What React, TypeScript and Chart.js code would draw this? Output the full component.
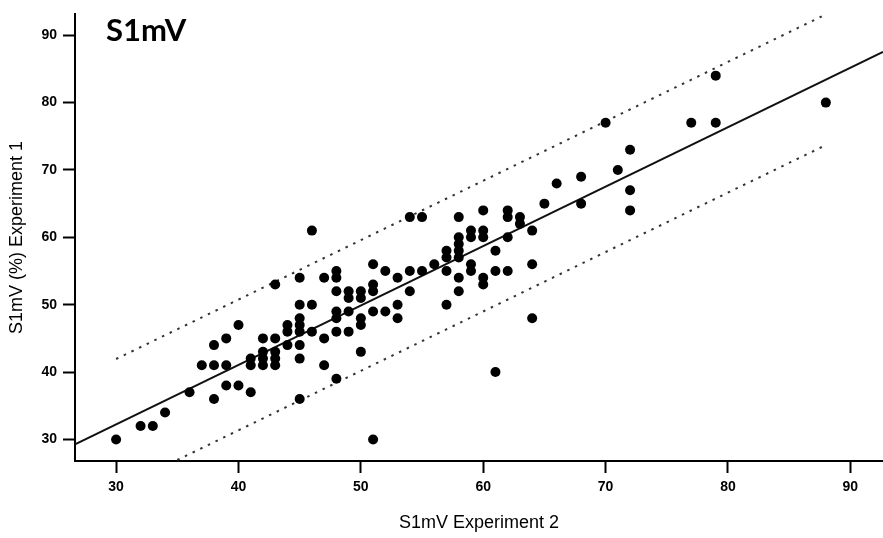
import React, { useEffect, useRef } from "react";
import { Chart, registerables } from "chart.js";

Chart.register(...registerables);

// S1mV Experiment 2 (x) vs S1mV (%) Experiment 1 (y)
const expTwo: number[] = [
  30, 32, 33, 34, 36, 37, 38, 39, 38, 38, 39, 39, 40, 40, 41, 41, 41,
  42, 42, 42, 42, 43, 43, 43, 43, 43, 44, 44, 44,
  45, 45, 45, 45, 45, 45, 45, 45, 46, 46, 46, 47, 47, 47,
  48, 48, 48, 48, 48, 48, 48, 49, 49, 49, 49, 50, 50, 50, 50, 50,
  51, 51, 51, 51, 51, 52, 52, 53, 53, 53, 54, 54, 54, 55, 55, 56,
  57, 57, 57, 57, 58, 58, 58, 58, 58, 58, 58, 59, 59, 59, 59,
  60, 60, 60, 60, 60, 61, 61, 61, 62, 62, 62, 62, 63, 63, 64, 64, 64,
  65, 66, 68, 68, 70, 71, 72, 72, 72, 77, 79, 79, 88,
];
const expOne: number[] = [
  30, 32, 32, 34, 37, 41, 41, 41, 44, 36, 45, 38, 38, 47, 37, 42, 41,
  45, 43, 42, 41, 53, 45, 43, 42, 41, 47, 46, 44,
  54, 50, 48, 47, 46, 44, 42, 36, 61, 50, 46, 54, 45, 41,
  55, 54, 52, 49, 48, 46, 39, 52, 51, 49, 46, 52, 51, 48, 47, 43,
  56, 53, 52, 49, 30, 55, 49, 54, 50, 48, 63, 55, 52, 63, 55, 56,
  58, 57, 55, 50, 63, 60, 59, 58, 57, 54, 52, 61, 60, 56, 55,
  64, 61, 60, 54, 53, 58, 55, 40, 64, 63, 60, 55, 63, 62, 61, 56, 48,
  65, 68, 69, 65, 77, 70, 73, 67, 64, 77, 84, 77, 80,
];

const xTicks: number[] = [30, 40, 50, 60, 70, 80, 90];
const yTicks: number[] = [30, 40, 50, 60, 70, 80, 90];

// fitted line and prediction band
const fitIntercept = 5.78;
const fitSlope = 0.882;
const bandHalfWidth = 9.7;
const bandRange: number[] = [30, 88];

const X_MIN = 26.64;
const X_MAX = 92.67;
const Y_MIN = 26.8;
const Y_MAX = 93.15;

export default function App() {
  const ref = useRef<HTMLCanvasElement | null>(null);

  useEffect(() => {
    const canvas = ref.current;
    if (!canvas) return;
    document.body.style.margin = "0";

    const points = expTwo.map((x, i) => ({ x, y: expOne[i] }));
    const fit = (x: number) => fitIntercept + fitSlope * x;
    const fitLine = [X_MIN, X_MAX].map((x) => ({ x, y: fit(x) }));
    const upper = bandRange.map((x) => ({ x, y: fit(x) + bandHalfWidth }));
    const lower = bandRange.map((x) => ({ x, y: fit(x) - bandHalfWidth }));

    const titlePlugin = {
      id: "panelTitle",
      afterDraw(chart: any) {
        const ctx = chart.ctx;
        ctx.save();
        ctx.fillStyle = "#000";
        ctx.font = "bold 31px Lato, 'Liberation Sans', sans-serif";
        ctx.textAlign = "left";
        ctx.textBaseline = "alphabetic";
        ctx.fillText("S1mV", 106, 41);
        ctx.restore();
      },
    };

    const tickFont = { family: "'Liberation Sans', Arial, sans-serif", size: 14, weight: "bold" as const };
    const titleFont = { family: "'Liberation Sans', Arial, sans-serif", size: 18, weight: "normal" as const };

    const chart = new Chart(canvas, {
      type: "scatter",
      data: {
        datasets: [
          {
            label: "points",
            data: points,
            pointRadius: 5,
            pointHoverRadius: 5,
            pointBackgroundColor: "#000",
            pointBorderColor: "#000",
            pointBorderWidth: 0,
            showLine: false,
            order: 1,
          },
          {
            label: "fit",
            data: fitLine,
            showLine: true,
            borderColor: "#111",
            borderWidth: 2,
            pointRadius: 0,
            order: 2,
          },
          {
            label: "upper",
            data: upper,
            showLine: true,
            borderColor: "#333",
            borderWidth: 2,
            borderDash: [2.5, 6],
            pointRadius: 0,
            order: 3,
          },
          {
            label: "lower",
            data: lower,
            showLine: true,
            borderColor: "#333",
            borderWidth: 2,
            borderDash: [2.5, 6],
            pointRadius: 0,
            order: 3,
          },
        ],
      },
      options: {
        responsive: false,
        animation: false,
        devicePixelRatio: 1,
        layout: { autoPadding: false, padding: { top: 14, right: 0, left: 0, bottom: 0 } },
        plugins: {
          legend: { display: false },
          tooltip: { enabled: false },
          title: { display: false },
        },
        scales: {
          x: {
            type: "linear",
            min: X_MIN,
            max: X_MAX,
            afterBuildTicks: (scale: any) => {
              scale.ticks = xTicks.map((v) => ({ value: v }));
            },
            afterFit: (scale: any) => {
              scale.height = 77;
              scale.paddingRight = 0;
              scale.paddingLeft = 0;
            },
            border: { display: true, color: "#000", width: 2 },
            grid: {
              display: true,
              drawOnChartArea: false,
              drawTicks: true,
              tickLength: 12,
              tickWidth: 2,
              tickColor: "#000",
              color: "#000",
            },
            ticks: {
              color: "#000",
              font: tickFont,
              padding: 6,
              maxRotation: 0,
              autoSkip: false,
            },
            title: {
              display: true,
              text: "S1mV Experiment 2",
              color: "#000",
              font: titleFont,
              padding: { top: 4, bottom: 4 },
            },
          },
          y: {
            type: "linear",
            min: Y_MIN,
            max: Y_MAX,
            afterBuildTicks: (scale: any) => {
              scale.ticks = yTicks.map((v) => ({ value: v }));
            },
            afterFit: (scale: any) => {
              scale.width = 75;
              scale.paddingTop = 0;
              scale.paddingBottom = 0;
            },
            border: { display: true, color: "#000", width: 2 },
            grid: {
              display: true,
              drawOnChartArea: false,
              drawTicks: true,
              tickLength: 12,
              tickWidth: 2,
              tickColor: "#000",
              color: "#000",
            },
            ticks: {
              color: "#000",
              font: tickFont,
              padding: 6,
              autoSkip: false,
            },
            title: {
              display: true,
              text: "S1mV (%) Experiment 1",
              color: "#000",
              font: titleFont,
              padding: { top: 6, bottom: 4 },
            },
          },
        },
      },
      plugins: [titlePlugin],
    });

    return () => {
      chart.destroy();
    };
  }, []);

  return (
    <div style={{ position: "fixed", left: 0, top: 0, width: 883, height: 538, background: "#fff" }}>
      <canvas ref={ref} width={883} height={538} style={{ display: "block", width: 883, height: 538 }} />
    </div>
  );
}
